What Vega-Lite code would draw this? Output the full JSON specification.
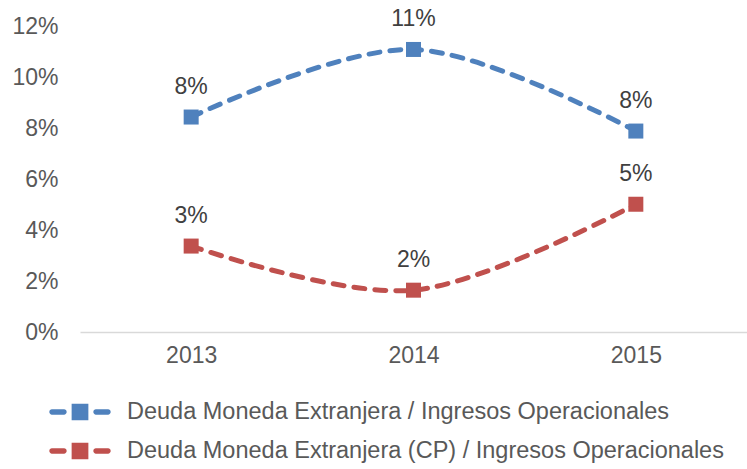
{
  "$schema": "https://vega.github.io/schema/vega-lite/v6.json",
  "width": 667,
  "height": 306,
  "autosize": {"type": "none"},
  "padding": {"left": 80, "top": 26, "right": 0, "bottom": 137},
  "background": "white",
  "config": {"font": "Liberation Sans", "view": {"stroke": null}},
  "data": {
    "values": [
      {"year": "2013", "series": "Deuda Moneda Extranjera / Ingresos Operacionales", "value": 0.0843},
      {"year": "2014", "series": "Deuda Moneda Extranjera / Ingresos Operacionales", "value": 0.1108},
      {"year": "2015", "series": "Deuda Moneda Extranjera / Ingresos Operacionales", "value": 0.0788},
      {"year": "2013", "series": "Deuda Moneda Extranjera (CP) / Ingresos Operacionales", "value": 0.0337},
      {"year": "2014", "series": "Deuda Moneda Extranjera (CP) / Ingresos Operacionales", "value": 0.0164},
      {"year": "2015", "series": "Deuda Moneda Extranjera (CP) / Ingresos Operacionales", "value": 0.0501}
    ]
  },
  "encoding": {
    "x": {
      "field": "year",
      "type": "ordinal",
      "scale": {"type": "point", "padding": 0.5},
      "axis": {
        "title": null,
        "labelAngle": 0,
        "domain": true,
        "domainColor": "#D9D9D9",
        "domainWidth": 1.5,
        "ticks": false,
        "grid": false,
        "labelPadding": 12,
        "labelFontSize": 23,
        "labelColor": "#595959"
      }
    },
    "y": {
      "field": "value",
      "type": "quantitative",
      "scale": {"domain": [0, 0.12], "nice": false},
      "axis": {
        "title": null,
        "values": [0, 0.02, 0.04, 0.06, 0.08, 0.1, 0.12],
        "format": ".0%",
        "domain": false,
        "ticks": false,
        "grid": false,
        "labelPadding": 22,
        "labelFontSize": 23,
        "labelColor": "#595959"
      }
    },
    "color": {
      "field": "series",
      "type": "nominal",
      "scale": {
        "domain": ["Deuda Moneda Extranjera / Ingresos Operacionales", "Deuda Moneda Extranjera (CP) / Ingresos Operacionales"],
        "range": ["#4F81BD", "#C0504D"]
      },
      "legend": {
        "orient": "none",
        "legendX": -15.5,
        "legendY": 370.5,
        "padding": 0,
        "title": null,
        "direction": "vertical",
        "symbolType": "M-1.81,-0.17 H-1.03 A0.17,0.17 0 0 1 -1.03,0.17 H-1.81 A0.17,0.17 0 0 1 -1.81,-0.17 Z M-0.54,-0.54 H0.54 V0.54 H-0.54 Z M1.03,-0.17 H1.81 A0.17,0.17 0 0 1 1.81,0.17 H1.03 A0.17,0.17 0 0 1 1.03,-0.17 Z",
        "symbolSize": 961,
        "symbolStrokeWidth": 0,
        "labelFontSize": 23.5,
        "labelColor": "#595959",
        "labelOffset": 31.5,
        "labelLimit": 900,
        "rowPadding": 12,
        "encode": {
          "symbols": {
            "update": {
              "fill": {"scale": "color", "field": "value"},
              "stroke": {"value": "transparent"},
              "opacity": {"value": 1}
            }
          }
        }
      }
    }
  },
  "layer": [
    {
      "mark": {
        "type": "line",
        "interpolate": "cardinal",
        "tension": 0,
        "strokeWidth": 5,
        "strokeDash": [11, 10],
        "strokeCap": "round"
      }
    },
    {
      "mark": {"type": "point", "shape": "square", "filled": true, "size": 225, "opacity": 1}
    },
    {
      "mark": {"type": "text", "dy": -30, "fontSize": 23, "baseline": "middle", "align": "center"},
      "encoding": {
        "text": {"field": "value", "type": "quantitative", "format": ".0%"},
        "color": {"value": "#404040"}
      }
    }
  ]
}
